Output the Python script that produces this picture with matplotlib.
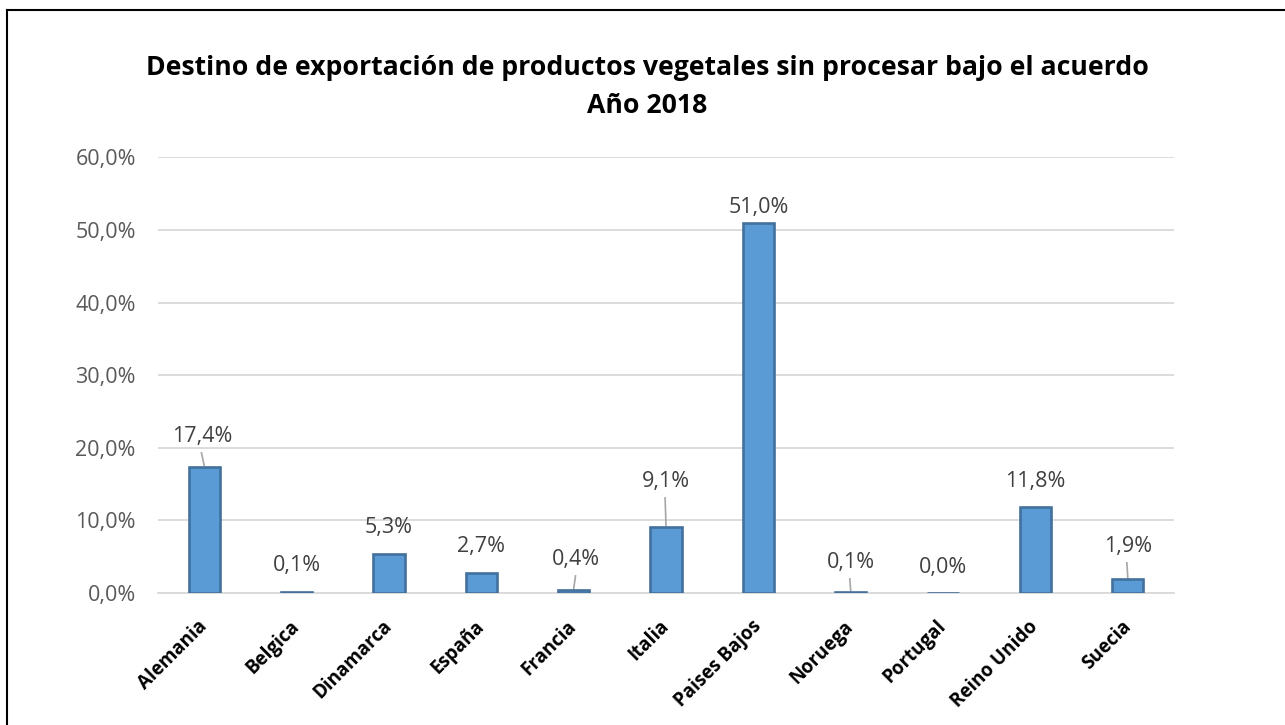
import matplotlib
matplotlib.use('Agg')
import matplotlib.pyplot as plt
from matplotlib.lines import Line2D
from matplotlib.ticker import FuncFormatter

# datos
paises = ['Alemania', 'Belgica', 'Dinamarca', 'España', 'Francia', 'Italia',
          'Paises Bajos', 'Noruega', 'Portugal', 'Reino Unido', 'Suecia']
porcentajes = [17.4, 0.1, 5.3, 2.7, 0.4, 9.1, 51.0, 0.1, 0.0, 11.8, 1.9]

# posicion de las etiquetas (altura en %, desplazamiento horizontal) y lineas guia
etiqueta_y = [21.5, 3.85, 8.95, 6.35, 4.55, 15.3, 53.1, 4.15, 3.45, 15.3, 6.35]
etiqueta_dx = [-0.02, 0, 0, 0, 0.03, 0, 0, 0, 0, 0, 0]
guia = [True, False, False, False, True, True, False, True, False, False, True]

plt.rcParams['font.family'] = ['Open Sans', 'DejaVu Sans']

fig = plt.figure(figsize=(12.85, 7.25), dpi=100)
ax = fig.add_axes([0.1230, 0.1821, 0.9136 - 0.1230, 0.7830 - 0.1821])

x = range(len(paises))
ax.bar(x, porcentajes, width=0.34, color='#5B9BD5', edgecolor='#41719C',
       linewidth=1.9, zorder=3)

for i, v in enumerate(porcentajes):
    tx = i + etiqueta_dx[i]
    ty = etiqueta_y[i]
    ax.text(tx, ty, f'{v:.1f}%'.replace('.', ','), ha='center', va='center',
            fontsize=15.5, color='#404040', zorder=4)
    if guia[i]:
        ax.plot([tx - 0.01, i], [ty - 2.2, v + 0.15], color='#A6A6A6',
                lw=1.2, zorder=2)

ax.set_xlim(-0.5, len(paises) - 0.5)
ax.set_ylim(0, 60)
ax.set_yticks(range(0, 61, 10))
ax.yaxis.set_major_formatter(FuncFormatter(lambda v, p: f'{v:.1f}%'.replace('.', ',')))
ax.grid(axis='y', color='#D9D9D9', lw=1.3, zorder=0)
ax.set_axisbelow(True)
for s in ['top', 'right', 'left']:
    ax.spines[s].set_visible(False)
ax.spines['bottom'].set_color('#D9D9D9')
ax.spines['bottom'].set_linewidth(1.3)
ax.tick_params(axis='y', length=0, pad=16, labelsize=15.5, labelcolor='#595959')
ax.tick_params(axis='x', length=0, pad=22)
ax.set_xticks(list(x))
ax.set_xticklabels(paises, rotation=45, ha='right', va='center',
                   rotation_mode='anchor', fontsize=13.5, fontweight='bold',
                   color='black')

fig.text(647 / 1285, 1 - 75 / 725,
         'Destino de exportación de productos vegetales sin procesar bajo el acuerdo',
         ha='center', va='baseline', fontsize=19.2, fontweight='bold')
fig.text(647 / 1285, 1 - 113 / 725, 'Año 2018', ha='center', va='baseline',
         fontsize=19.2, fontweight='bold')

# marco
fig.add_artist(Line2D([6.5 / 1285, 6.5 / 1285], [0, 1 - 10 / 725], color='black', lw=1.5))
fig.add_artist(Line2D([6.5 / 1285, 1], [1 - 10 / 725, 1 - 10 / 725], color='black', lw=1.5))

fig.savefig('out.png', dpi=100)
